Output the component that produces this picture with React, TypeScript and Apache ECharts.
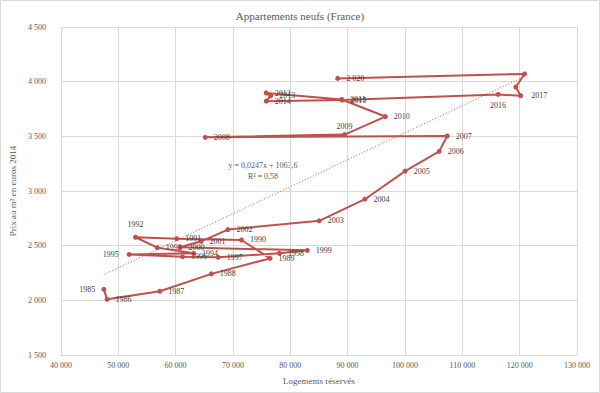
import React, { useEffect, useRef } from "react";
import * as echarts from "echarts";

const years = [1985,1986,1987,1988,1989,1990,1991,1992,1993,1994,1995,1996,1997,1998,1999,2000,2001,2002,2003,2004,2005,2006,2007,2008,2009,2010,2011,2012,2013,2014,2015,2016,2017,2018,2019,2020];
const pointLabels = ["1985","1986","1987","1988","1989","1990","1991","1992","1993","1994","1995","1996","1997","1998","1999","2000","2001","2002","2003","2004","2005","2006","2007","2008","2009","2010","2011","2012","2013","2014","2015","2016","2017","","","2 020"];
const logements = [47490,48050,57250,66240,76470,71490,60200,53020,56810,63140,51900,61220,67420,78100,82970,60760,64440,69120,85050,93020,100030,105970,107370,65170,89460,96580,88950,75800,76580,75800,89020,116240,120170,119320,120880,88270];
const prix = [2101,2009,2083,2242,2384,2552,2564,2577,2482,2430,2420,2398,2393,2430,2457,2485,2540,2647,2727,2925,3182,3363,3503,3491,3516,3681,3837,3896,3871,3822,3832,3883,3871,3951,4071,4030];
const trendX = [47490, 120880];
const trendY = [2236, 4049];
const equationLines = ["y = 0,0247x + 1063,6", "R² = 0,58"];

const fmt = (v: number) => String(v).replace(/\B(?=(\d{3})+(?!\d))/g, " ");

const labelPos: Record<number, any> = {
  1985: { position: "left", distance: 6 },
  1992: { position: "top", distance: 6, offset: [-4, 0] },
  1995: { position: "left", distance: 8 },
  2009: { position: "top", distance: 2, offset: [-14, 0] },
  2013: { position: "right", distance: 6, offset: [0, 0] },
  2015: { position: "right", distance: 6, offset: [15, 2] },
  2016: { position: "bottom", distance: 5, offset: [-6, 0] },
  2017: { position: "right", distance: 8, offset: [0, 2] },
};

export default function App() {
  const ref = useRef<HTMLDivElement>(null);
  useEffect(() => {
    if (!ref.current) return;
    const chart = echarts.init(ref.current, null, { renderer: "svg" });
    const font = "'Liberation Serif', 'Times New Roman', serif";
    const textColor = "#595959";
    const data = years.map((yr, i) => ({
      value: [logements[i], prix[i]],
      label: {
        show: pointLabels[i] !== "",
        formatter: pointLabels[i],
        position: "right",
        distance: 6,
        offset: [0, 2],
        fontFamily: font,
        fontSize: 8,
        color: "#404040",
        ...(labelPos[yr] || {}),
      },
    }));
    chart.setOption({
      animation: false,
      backgroundColor: "#ffffff",
      textStyle: { fontFamily: font },
      title: {
        text: "Appartements neufs (France)",
        left: "center",
        top: 5,
        textStyle: { fontFamily: font, fontSize: 11, fontWeight: "normal", color: textColor },
      },
      grid: { left: 47, right: 23, top: 27, bottom: 38 },
      xAxis: {
        type: "value",
        min: 40000,
        max: 130000,
        interval: 10000,
        name: "Logements réservés",
        nameLocation: "middle",
        nameGap: 21,
        nameTextStyle: { fontFamily: font, fontSize: 9, color: textColor },
        axisLine: { show: true, lineStyle: { color: "#d9d9d9" } },
        axisTick: { show: false },
        axisLabel: { fontFamily: font, fontSize: 8, color: textColor, margin: 6, formatter: (v: number) => fmt(v) },
        splitLine: { show: true, lineStyle: { color: "#d9d9d9", width: 1 } },
      },
      yAxis: {
        type: "value",
        min: 1500,
        max: 4500,
        interval: 500,
        name: "Prix au m² en euros 2014",
        nameLocation: "middle",
        nameGap: 31,
        nameTextStyle: { fontFamily: font, fontSize: 9, color: textColor },
        axisLine: { show: false },
        axisTick: { show: false },
        axisLabel: { fontFamily: font, fontSize: 8, color: textColor, margin: 15, formatter: (v: number) => fmt(v) },
        splitLine: { show: true, lineStyle: { color: "#d9d9d9", width: 1 } },
      },
      graphic: [
        {
          type: "rect",
          shape: { x: 0.5, y: 0.5, width: 599, height: 392 },
          style: { fill: "none", stroke: "#d9d9d9", lineWidth: 1 },
          silent: true,
        },
        {
          type: "text",
          x: 263,
          y: 165,
          style: { text: equationLines[0], fontFamily: font, fontSize: 8, fill: textColor, align: "center", verticalAlign: "middle" },
        },
        {
          type: "text",
          x: 263,
          y: 176,
          style: { text: equationLines[1], fontFamily: font, fontSize: 8, fill: textColor, align: "center", verticalAlign: "middle" },
        },
      ],
      series: [
        {
          type: "line",
          data: trendX.map((x, i) => [x, trendY[i]]),
          symbol: "none",
          lineStyle: { color: "#c0504d", width: 1, type: [1, 2] },
          silent: true,
          z: 1,
        },
        {
          type: "line",
          data,
          symbol: "circle",
          symbolSize: 5,
          itemStyle: { color: "#c0504d" },
          lineStyle: { color: "#c0504d", width: 2 },
          label: { fontFamily: font, fontSize: 8, color: "#404040" },
          labelLayout: { hideOverlap: false },
          z: 2,
        },
      ],
    });
    return () => chart.dispose();
  }, []);
  return <div ref={ref} style={{ position: "fixed", left: 0, top: 0, width: 600, height: 393 }} />;
}
